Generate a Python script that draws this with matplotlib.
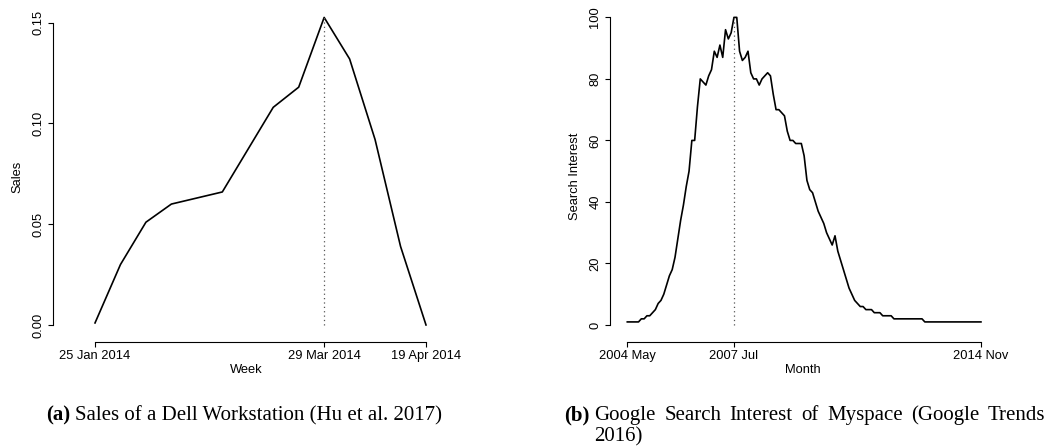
import matplotlib
matplotlib.use("Agg")
import matplotlib.pyplot as plt
import numpy as np

plt.rcParams['font.family'] = ['Liberation Sans', 'DejaVu Sans']

# weekly sales of the workstation
sales = [0.001, 0.030, 0.051, 0.060, 0.063, 0.066, 0.087, 0.108, 0.118,
         0.1526, 0.132, 0.092, 0.039, 0.000]
sales_ticks = [0, 9, 13]
sales_ticklabels = ['25 Jan 2014', '29 Mar 2014', '19 Apr 2014']
sales_peak = 9

# monthly search interest, 2004 May .. 2014 Nov
interest = [1, 1, 1, 1, 1, 2, 2, 3, 3, 4,
            5, 7, 8, 10, 13, 16, 18, 22, 28, 34,
            39, 45, 50, 60, 60, 71, 80, 79, 78, 81,
            83, 89, 87, 91, 87, 96, 93, 95, 100, 100,
            89, 86, 87, 89, 82, 80, 80, 78, 80, 81,
            82, 81, 75, 70, 70, 69, 68, 63, 60, 60,
            59, 59, 59, 55, 47, 44, 43, 40, 37, 35,
            33, 30, 28, 26, 29, 24, 21, 18, 15, 12,
            10, 8, 7, 6, 6, 5, 5, 5, 4, 4,
            4, 3, 3, 3, 3, 2, 2, 2, 2, 2,
            2, 2, 2, 2, 2, 2, 1, 1, 1, 1,
            1, 1, 1, 1, 1, 1, 1, 1, 1, 1,
            1, 1, 1, 1, 1, 1, 1]
interest_ticks = [0, 38, 126]
interest_ticklabels = ['2004 May', '2007 Jul', '2014 Nov']
interest_peak = 38

caption_a = 'Sales of a Dell Workstation (Hu et al. 2017)'
caption_b1 = 'Google Search Interest of Myspace (Google Trends'
caption_b2 = '2016)'

W, H = 1054, 447
fig = plt.figure(figsize=(W / 100, H / 100), dpi=100)


def px_axes(l, r, t, b):
    return fig.add_axes([l / W, 1 - b / H, (r - l) / W, (b - t) / H])


def r_style(ax):
    for s in ['top', 'right']:
        ax.spines[s].set_visible(False)
    for s in ['left', 'bottom']:
        ax.spines[s].set_linewidth(0.8)
    ax.tick_params(direction='out', length=3.8, width=0.8, labelsize=9.3, pad=2.5)
    ax.tick_params(axis='y', labelrotation=90)
    for lab in ax.get_yticklabels():
        lab.set_va('center')


# (a) sales
ax1 = px_axes(53, 440, 12, 341.7)
x1 = np.arange(len(sales))
ax1.plot(x1, sales, color='black', lw=1.2)
ax1.plot([sales_peak, sales_peak], [0, sales[sales_peak]], color='#555555',
         lw=0.9, ls=(0, (1, 2.5)))
ax1.set_xlim(-1.65, 13.55)
ax1.set_ylim(-0.0083, 0.1553)
ax1.set_xticks(sales_ticks)
ax1.set_xticklabels(sales_ticklabels)
ax1.set_yticks([0, 0.05, 0.10, 0.15])
ax1.set_yticklabels(['0.00', '0.05', '0.10', '0.15'])
ax1.spines['left'].set_bounds(0, 0.15)
ax1.spines['bottom'].set_bounds(0, 13)
r_style(ax1)
ax1.set_xlabel('Week', fontsize=9.3, labelpad=1)
ax1.set_ylabel('Sales', fontsize=9.3, labelpad=6)

# (b) search interest
ax2 = px_axes(610, 995, 10, 341.7)
x2 = np.arange(len(interest))
ax2.plot(x2, interest, color='black', lw=1.2)
ax2.plot([interest_peak, interest_peak], [0, interest[interest_peak]],
         color='#555555', lw=0.9, ls=(0, (1, 2.5)))
ax2.set_xlim(-6.16, 131)
ax2.set_ylim(-5.43, 102.4)
ax2.set_xticks(interest_ticks)
ax2.set_xticklabels(interest_ticklabels)
ax2.set_yticks([0, 20, 40, 60, 80, 100])
ax2.spines['left'].set_bounds(0, 100)
ax2.spines['bottom'].set_bounds(0, 126)
r_style(ax2)
ax2.set_xlabel('Month', fontsize=9.3, labelpad=1)
ax2.set_ylabel('Search Interest', fontsize=9.3, labelpad=6)

# captions
serif = ['Liberation Serif', 'DejaVu Serif']
cap_fs = 15
renderer = fig.canvas.get_renderer()


def cap_text(x, y, s, bold=False):
    t = fig.text(x / W, 1 - y / H, s, family=serif, fontsize=cap_fs,
                 weight='bold' if bold else 'normal', va='baseline', ha='left')
    return t, t.get_window_extent(renderer).width


space = cap_fs * 100 / 72 * 0.25

lab, w = cap_text(46, 420, '(a)', bold=True)
cap_text(46 + w + space, 420, caption_a)

lab, w = cap_text(564, 420, '(b)', bold=True)
x_left, x_right = 564 + w + space, 1045

# justified first line of caption (b)
words = caption_b1.split()
parts = [cap_text(0, 420, s) for s in words]
gap = (x_right - x_left - sum(p[1] for p in parts)) / (len(words) - 1)
xpos = x_left
for t, w in parts:
    t.set_x(xpos / W)
    xpos += w + gap
cap_text(x_left, 441, caption_b2)

fig.savefig('out.png', dpi=100)
